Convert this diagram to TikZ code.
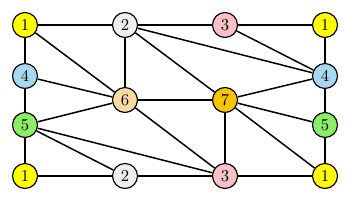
\documentclass[tikz,border=0pt]{standalone}
\usepackage{xcolor}
\usepackage{tikz}
\usetikzlibrary{positioning}
\definecolor{vyellow}{HTML}{FFFF00}
\definecolor{vgray}{HTML}{EEEEEE}
\definecolor{vpink}{HTML}{F9C0C8}
\definecolor{vblue}{HTML}{A8D8F0}
\definecolor{vpeach}{HTML}{FCD9A0}
\definecolor{vgold}{HTML}{F7C400}
\definecolor{vgreen}{HTML}{8CEE66}

\tikzset{
  vertex/.style={circle, draw, line width=0.7pt, minimum size=15pt, inner sep=0pt},
  edge/.style={line width=0.9pt}
}

\begin{document}
\begin{tikzpicture}[x=0.6pt, y=-0.6pt]
    \useasboundingbox (0,0) rectangle (350,200);
    % vertices
    \node[vertex, fill=vyellow] (tl1) at (25,25) {1};
    \node[vertex, fill=vgray]   (t2)  at (125,25) {2};
    \node[vertex, fill=vpink]   (t3)  at (225,25) {3};
    \node[vertex, fill=vyellow] (tr1) at (325,25) {1};
    \node[vertex, fill=vblue]   (l4)  at (25,76) {4};
    \node[vertex, fill=vblue]   (r4)  at (325,76) {4};
    \node[vertex, fill=vpeach]  (c6)  at (125,100) {6};
    \node[vertex, fill=vgold]   (c7)  at (225,100) {7};
    \node[vertex, fill=vgreen]  (l5)  at (25,125) {5};
    \node[vertex, fill=vgreen]  (r5)  at (325,125) {5};
    \node[vertex, fill=vyellow] (bl1) at (25,176) {1};
    \node[vertex, fill=vgray]   (b2)  at (125,176) {2};
    \node[vertex, fill=vpink]   (b3)  at (225,176) {3};
    \node[vertex, fill=vyellow] (br1) at (325,176) {1};
    % edges
    \draw[edge] (tl1) -- (t2) -- (t3) -- (tr1);
    \draw[edge] (bl1) -- (b2) -- (b3) -- (br1);
    \draw[edge] (tl1) -- (l4) -- (l5) -- (bl1);
    \draw[edge] (tr1) -- (r4) -- (r5) -- (br1);
    \draw[edge] (tl1) -- (c6);
    \draw[edge] (l4) -- (c6);
    \draw[edge] (l5) -- (c6);
    \draw[edge] (t2) -- (c6);
    \draw[edge] (t2) -- (c7);
    \draw[edge] (t2) -- (r4);
    \draw[edge] (t3) -- (r4);
    \draw[edge] (c6) -- (c7);
    \draw[edge] (c7) -- (r4);
    \draw[edge] (c7) -- (r5);
    \draw[edge] (c7) -- (br1);
    \draw[edge] (c7) -- (b3);
    \draw[edge] (c6) -- (b3);
    \draw[edge] (l5) -- (b2);
    \draw[edge] (l5) -- (b3);
  \end{tikzpicture}
\end{document}
